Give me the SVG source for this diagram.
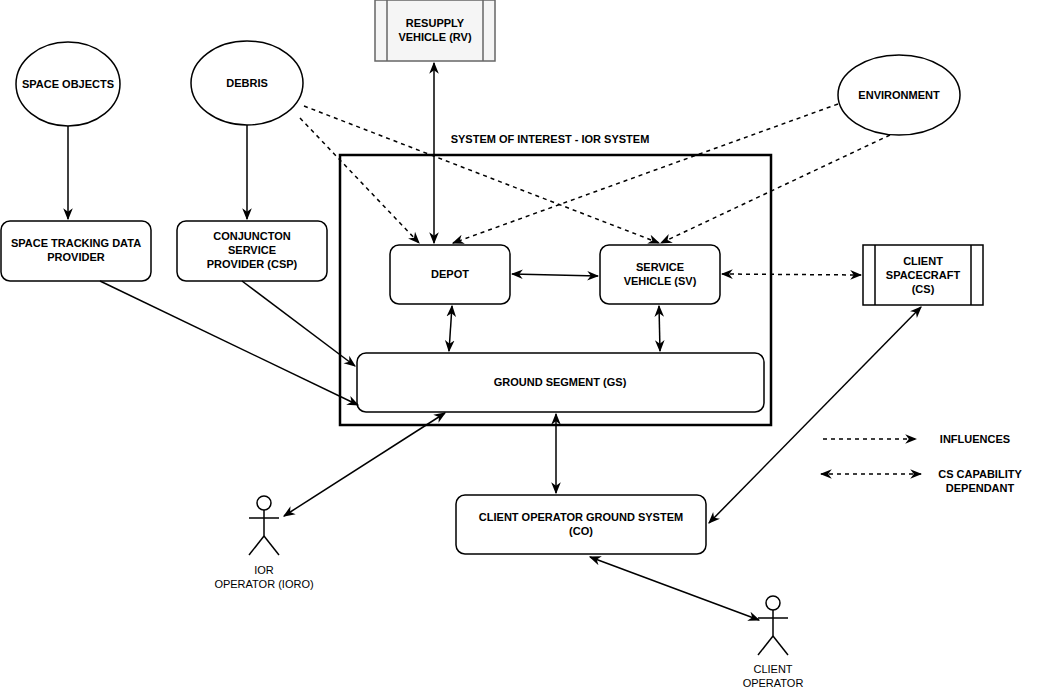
<svg xmlns="http://www.w3.org/2000/svg" width="1042" height="691" viewBox="0 0 1042 691">
<style>
.s{fill:#fff;stroke:#000;stroke-width:1.5}
.t{font-family:"Liberation Sans",Arial,sans-serif;font-size:11px;font-weight:bold;text-anchor:middle;fill:#000}
.n{font-family:"Liberation Sans",Arial,sans-serif;font-size:11px;text-anchor:middle;fill:#000}
.c{fill:none;stroke:#000;stroke-width:1.5}
.d{stroke-dasharray:4 4}
</style>
<defs>
<marker id="a" viewBox="0 0 10 10" refX="9" refY="5" markerWidth="8" markerHeight="8" orient="auto-start-reverse"><path d="M0,1 L10,5 L0,9 L3,5 Z" fill="#000"/></marker>
</defs>
<rect width="1042" height="691" fill="#fff"/>
<g id="system"><rect x="340" y="155" width="431" height="270" fill="none" stroke="#000" stroke-width="2.5"/><text class="t" x="550" y="143">SYSTEM OF INTEREST - IOR SYSTEM</text></g>
<g id="rv"><rect x="375" y="0" width="120" height="61" fill="#f5f5f5" stroke="#666" stroke-width="1.5"/><line x1="387" y1="0" x2="387" y2="61" stroke="#666" stroke-width="1.5"/><line x1="483" y1="0" x2="483" y2="61" stroke="#666" stroke-width="1.5"/><text class="t" x="435" y="27">RESUPPLY</text><text class="t" x="435" y="41">VEHICLE (RV)</text></g>
<g id="spaceobjects"><ellipse class="s" cx="68" cy="84" rx="52" ry="42"/><text class="t" x="68" y="88">SPACE OBJECTS</text></g>
<g id="debris"><ellipse class="s" cx="247" cy="83" rx="56" ry="42"/><text class="t" x="247" y="87">DEBRIS</text></g>
<g id="environment"><ellipse class="s" cx="899" cy="95" rx="61" ry="40"/><text class="t" x="899" y="99">ENVIRONMENT</text></g>
<g id="stdp"><rect class="s" x="1" y="221" width="150" height="60" rx="9"/><text class="t" x="76" y="247">SPACE TRACKING DATA</text><text class="t" x="76" y="261">PROVIDER</text></g>
<g id="csp"><rect class="s" x="177" y="221" width="150" height="60" rx="9"/><text class="t" x="252" y="240">CONJUNCTON</text><text class="t" x="252" y="254">SERVICE</text><text class="t" x="252" y="268">PROVIDER (CSP)</text></g>
<g id="depot"><rect class="s" x="390" y="245" width="120" height="59" rx="9"/><text class="t" x="450" y="278">DEPOT</text></g>
<g id="sv"><rect class="s" x="600" y="245" width="120" height="59" rx="9"/><text class="t" x="660" y="271">SERVICE</text><text class="t" x="660" y="285">VEHICLE (SV)</text></g>
<g id="cs"><rect class="s" x="863" y="245" width="120" height="60"/><line x1="875" y1="245" x2="875" y2="305" stroke="#000" stroke-width="1.5"/><line x1="971" y1="245" x2="971" y2="305" stroke="#000" stroke-width="1.5"/><text class="t" x="923" y="265">CLIENT</text><text class="t" x="923" y="279">SPACECRAFT</text><text class="t" x="923" y="293">(CS)</text></g>
<g id="gs"><rect class="s" x="357" y="353" width="407" height="59" rx="9"/><text class="t" x="560" y="386">GROUND SEGMENT (GS)</text></g>
<g id="co"><rect class="s" x="456" y="495" width="250" height="59" rx="9"/><text class="t" x="581" y="521">CLIENT OPERATOR GROUND SYSTEM</text><text class="t" x="581" y="535">(CO)</text></g>
<g id="ioro" fill="none" stroke="#000" stroke-width="1.5"><circle cx="264" cy="503" r="7" fill="#fff"/><line x1="264" y1="510" x2="264" y2="536"/><line x1="249" y1="518" x2="279" y2="518"/><line x1="264" y1="536" x2="249" y2="555"/><line x1="264" y1="536" x2="279" y2="555"/></g>
<text class="n" x="264" y="574">IOR</text><text class="n" x="264" y="588">OPERATOR (IORO)</text>
<g id="clientop" fill="none" stroke="#000" stroke-width="1.5"><circle cx="773" cy="603" r="7" fill="#fff"/><line x1="773" y1="610" x2="773" y2="636"/><line x1="758" y1="618" x2="788" y2="618"/><line x1="773" y1="636" x2="758" y2="655"/><line x1="773" y1="636" x2="788" y2="655"/></g>
<text class="n" x="773" y="673">CLIENT</text><text class="n" x="773" y="687">OPERATOR</text>
<g id="legend"><line class="c d" x1="823" y1="439" x2="916" y2="439" marker-end="url(#a)"/><text class="t" x="975" y="443">INFLUENCES</text><line class="c d" x1="821" y1="474" x2="921" y2="474" marker-start="url(#a)" marker-end="url(#a)"/><text class="t" x="980" y="478">CS CAPABILITY</text><text class="t" x="980" y="492">DEPENDANT</text></g>
<g id="connectors">
<line class="c" x1="68" y1="126" x2="68" y2="219" marker-end="url(#a)"/>
<line class="c" x1="247" y1="125" x2="247" y2="219" marker-end="url(#a)"/>
<line class="c" x1="434" y1="63" x2="434" y2="243" marker-start="url(#a)" marker-end="url(#a)"/>
<line class="c d" x1="300" y1="118" x2="419" y2="243" marker-end="url(#a)"/>
<line class="c d" x1="304" y1="106" x2="659" y2="243" marker-end="url(#a)"/>
<line class="c d" x1="838" y1="104" x2="453" y2="243" marker-end="url(#a)"/>
<line class="c d" x1="890" y1="135" x2="661" y2="243" marker-end="url(#a)"/>
<line class="c" x1="512" y1="274" x2="598" y2="276" marker-start="url(#a)" marker-end="url(#a)"/>
<line class="c d" x1="722" y1="274" x2="861" y2="275" marker-start="url(#a)" marker-end="url(#a)"/>
<line class="c" x1="452" y1="306" x2="449" y2="351" marker-start="url(#a)" marker-end="url(#a)"/>
<line class="c" x1="659" y1="306" x2="660" y2="351" marker-start="url(#a)" marker-end="url(#a)"/>
<line class="c" x1="100" y1="281" x2="358" y2="405" marker-end="url(#a)"/>
<line class="c" x1="242" y1="281" x2="355" y2="366" marker-end="url(#a)"/>
<line class="c" x1="445" y1="413" x2="284" y2="516" marker-start="url(#a)" marker-end="url(#a)"/>
<line class="c" x1="556" y1="414" x2="556" y2="493" marker-start="url(#a)" marker-end="url(#a)"/>
<line class="c" x1="921" y1="307" x2="709" y2="523" marker-start="url(#a)" marker-end="url(#a)"/>
<line class="c" x1="590" y1="557" x2="759" y2="620" marker-start="url(#a)" marker-end="url(#a)"/>
</g>
</svg>
